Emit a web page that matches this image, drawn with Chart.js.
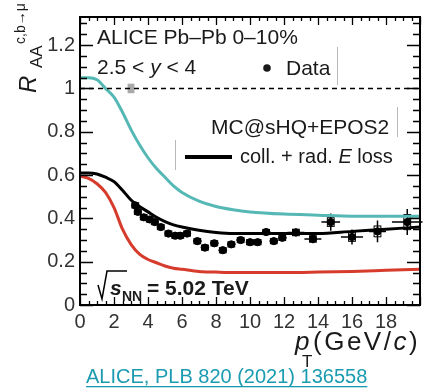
<!DOCTYPE html>
<html><head><meta charset="utf-8">
<script src="https://cdn.jsdelivr.net/npm/chart.js@4"></script>
<style>html,body{margin:0;padding:0;background:#fff}</style>
</head><body>
<canvas id="c" width="425" height="392"></canvas>
<script>
// axis ticks
const xTicks = [0,2,4,6,8,10,12,14,16,18];
const yTicks = [0,0.2,0.4,0.6,0.8,1,1.2];
const xMinorStep = 0.5, yMinorStep = 0.05;

// MC@sHQ+EPOS2 curves (pT grid shared)
const curvePt   = [0,0.5,1,1.5,2,2.5,3,3.5,4,4.5,5,5.5,6,7,8,9,10,12,14,16,18,20];
const cyanCurve = [1.05,1.05,1.04,1.0,0.96,0.89,0.81,0.74,0.68,0.63,0.59,0.55,0.52,0.48,0.455,0.44,0.43,0.42,0.415,0.41,0.41,0.41];
const blackCurve= [0.61,0.61,0.605,0.59,0.57,0.53,0.485,0.455,0.43,0.405,0.385,0.37,0.36,0.345,0.335,0.33,0.33,0.33,0.33,0.34,0.35,0.36];
const redCurve  = [0.595,0.585,0.56,0.52,0.45,0.35,0.28,0.235,0.21,0.195,0.18,0.17,0.165,0.155,0.152,0.15,0.15,0.15,0.152,0.155,0.16,0.165];

// ALICE data
const dataPt  = [3.25,3.4,3.75,4.1,4.4,4.75,5.2,5.6,5.9,6.3,6.9,7.35,7.9,8.4,8.9,9.45,10.0,10.45,10.95,11.4,11.9,12.7,13.7,14.75,16.0,17.5,19.25];
const dataRaa = [0.46,0.43,0.405,0.395,0.383,0.36,0.33,0.32,0.32,0.33,0.295,0.265,0.285,0.253,0.28,0.30,0.29,0.29,0.337,0.295,0.31,0.335,0.305,0.383,0.314,0.34,0.383];
const statErr = [0.01,0.01,0.01,0.01,0.01,0.01,0.01,0.01,0.01,0.01,0.01,0.01,0.01,0.01,0.01,0.012,0.012,0.012,0.015,0.015,0.015,0.018,0.02,0.04,0.035,0.05,0.06];
const ptErr   = [0.1,0.1,0.1,0.1,0.1,0.1,0.2,0.2,0.2,0.2,0.25,0.25,0.25,0.25,0.25,0.25,0.25,0.25,0.25,0.25,0.25,0.5,0.5,0.55,0.65,0.5,0.9];
const sysErr  = [0.012,0.012,0.012,0.012,0.012,0.012,0.012,0.012,0.012,0.012,0.012,0.012,0.012,0.012,0.012,0.012,0.012,0.012,0.012,0.012,0.012,0.015,0.015,0.02,0.02,0.025,0.035];

// normalisation uncertainty box at unity
const normPt = 3.0, normDpt = 0.2, normVal = 1.0, normErr = 0.022;

const cyanCol = '#55b8b5', redCol = '#d63b2c', teal = '#1a9bb0';
const FONT = "'Liberation Sans', Arial, sans-serif";

const pts = (xs, ys) => xs.map((x, i) => ({x, y: ys[i]}));

const errPlugin = {
  id: 'errs',
  beforeDatasetsDraw(chart) {
    const {ctx, scales:{x, y}} = chart;
    ctx.save();
    // normalisation box
    ctx.fillStyle = '#a9a9a9';
    ctx.fillRect(x.getPixelForValue(normPt - normDpt), y.getPixelForValue(normVal + normErr),
      x.getPixelForValue(normPt + normDpt) - x.getPixelForValue(normPt - normDpt),
      y.getPixelForValue(normVal - normErr) - y.getPixelForValue(normVal + normErr));
    ctx.strokeStyle = '#000'; ctx.lineWidth = 1.5;
    dataPt.forEach((p, i) => {
      const px = x.getPixelForValue(p), py = y.getPixelForValue(dataRaa[i]);
      ctx.beginPath();
      ctx.moveTo(x.getPixelForValue(p - ptErr[i]), py); ctx.lineTo(x.getPixelForValue(p + ptErr[i]), py);
      ctx.moveTo(px, y.getPixelForValue(dataRaa[i] - statErr[i])); ctx.lineTo(px, y.getPixelForValue(dataRaa[i] + statErr[i]));
      ctx.stroke();
      const bx0 = x.getPixelForValue(p - 0.2), bx1 = x.getPixelForValue(p + 0.2);
      const by0 = y.getPixelForValue(dataRaa[i] + sysErr[i]), by1 = y.getPixelForValue(dataRaa[i] - sysErr[i]);
      ctx.lineWidth = 1; ctx.strokeRect(bx0, by0, bx1 - bx0, by1 - by0); ctx.lineWidth = 1.5;
    });
    ctx.restore();
  },
  afterDraw(chart) {
    const {ctx, chartArea:a, scales:{x, y}} = chart;
    ctx.save();
    ctx.strokeStyle = '#000'; ctx.lineWidth = 2;
    ctx.strokeRect(a.left, a.top, a.right - a.left, a.bottom - a.top);
    ctx.lineWidth = 1.3;
    ctx.beginPath();
    for (let v = 0; v <= x.max + 1e-9; v += xMinorStep) {
      const px = Math.round(x.getPixelForValue(v)) + 0.5;
      const L = Math.abs(v % 2) < 1e-6 ? 8 : 4;
      ctx.moveTo(px, a.bottom); ctx.lineTo(px, a.bottom - L);
      ctx.moveTo(px, a.top); ctx.lineTo(px, a.top + L);
    }
    for (let v = 0; v <= y.max + 1e-9; v += yMinorStep) {
      const py = Math.round(y.getPixelForValue(v)) + 0.5;
      const major = Math.abs(Math.round(v * 100) % 20) === 0;
      const L = major ? 13 : 7;
      ctx.moveTo(a.left, py); ctx.lineTo(a.left + L, py);
      ctx.moveTo(a.right, py); ctx.lineTo(a.right - L, py);
    }
    ctx.stroke();

    // faint legend separators
    ctx.strokeStyle = '#b8b8b8'; ctx.lineWidth = 1;
    ctx.beginPath();
    ctx.moveTo(337.5, 47); ctx.lineTo(337.5, 85);
    ctx.moveTo(397.5, 107); ctx.lineTo(397.5, 137);
    ctx.moveTo(175.5, 140); ctx.lineTo(175.5, 170);
    ctx.stroke();

    ctx.fillStyle = '#1a1a1a'; ctx.textBaseline = 'alphabetic'; ctx.textAlign = 'left';
    ctx.font = `21px ${FONT}`;
    ctx.fillText('ALICE Pb\u2013Pb 0\u201310%', 97, 44);
    ctx.fillText('2.5 < ', 97, 74);
    let w = ctx.measureText('2.5 < ').width;
    ctx.font = `italic 21px ${FONT}`; ctx.fillText('y', 97 + w, 74);
    w += ctx.measureText('y').width;
    ctx.font = `21px ${FONT}`; ctx.fillText(' < 4', 97 + w, 74);
    ctx.beginPath(); ctx.arc(267, 68, 3.8, 0, Math.PI * 2); ctx.fill();
    ctx.fillText('Data', 286, 75);
    ctx.fillText('MC@sHQ+EPOS2', 211, 134);
    ctx.font = `20px ${FONT}`;
    ctx.fillText('coll. + rad. ', 240, 163);
    w = ctx.measureText('coll. + rad. ').width;
    ctx.font = `italic 20px ${FONT}`; ctx.fillText('E', 240 + w, 163);
    w += ctx.measureText('E').width;
    ctx.font = `20px ${FONT}`; ctx.fillText(' loss', 240 + w, 163);
    ctx.strokeStyle = '#000'; ctx.lineWidth = 4;
    ctx.beginPath(); ctx.moveTo(185, 157); ctx.lineTo(232, 157); ctx.stroke();

    // sqrt(sNN) label
    ctx.lineWidth = 1.5;
    ctx.beginPath(); ctx.moveTo(98, 285); ctx.lineTo(102, 299); ctx.lineTo(107, 271); ctx.lineTo(127, 271); ctx.stroke();
    ctx.font = `bold italic 21px ${FONT}`; ctx.fillText('s', 110, 295);
    ctx.font = `bold 14px ${FONT}`; ctx.fillText('NN', 122, 301);
    ctx.font = `bold 21px ${FONT}`; ctx.fillText('= 5.02 TeV', 147, 295);

    // y title
    ctx.save();
    ctx.translate(36, 93); ctx.rotate(-Math.PI / 2);
    ctx.font = `italic 24px ${FONT}`; ctx.fillText('R', 0, 0);
    ctx.font = `17px ${FONT}`; ctx.fillText('AA', 25, 6);
    ctx.font = `14px ${FONT}`; ctx.fillText('c,b\u2192\u03bc', 49, -11);
    ctx.restore();

    // x title
    ctx.font = `italic 26px ${FONT}`; ctx.fillText('p', 295, 350);
    ctx.font = `17px ${FONT}`; ctx.fillText('T', 302, 367);
    ctx.letterSpacing = '2.5px';
    ctx.font = `26px ${FONT}`; ctx.fillText('(GeV/', 313, 350);
    w = ctx.measureText('(GeV/').width;
    ctx.font = `italic 26px ${FONT}`; ctx.fillText('c', 313 + w, 350);
    w += ctx.measureText('c').width;
    ctx.font = `26px ${FONT}`; ctx.fillText(')', 313 + w, 350);
    ctx.letterSpacing = '0px';

    // reference
    ctx.fillStyle = teal; ctx.font = `20px ${FONT}`;
    const ref = 'ALICE, PLB 820 (2021) 136558';
    ctx.fillText(ref, 86, 383);
    ctx.fillRect(86, 386, ctx.measureText(ref).width, 1.3);
    ctx.restore();
  }
};

const lineDs = (data, color, width) => ({
  data, borderColor: color, borderWidth: width, pointRadius: 0, showLine: true,
  cubicInterpolationMode: 'monotone', fill: false
});

new Chart(document.getElementById('c'), {
  type: 'scatter',
  data: { datasets: [
    { data: pts([0, 20], [1, 1]), borderColor: '#000', borderWidth: 1.5, borderDash: [5, 4], pointRadius: 0, showLine: true },
    lineDs(pts(curvePt, cyanCurve), cyanCol, 3),
    lineDs(pts(curvePt, redCurve), redCol, 3),
    lineDs(pts(curvePt, blackCurve), '#000', 3),
    { data: pts(dataPt, dataRaa), backgroundColor: '#000', borderColor: '#000', pointRadius: 3.6, pointStyle: 'circle', showLine: false }
  ]},
  options: {
    responsive: false, animation: false,
    layout: { padding: { top: 15, right: 4 } },
    plugins: { legend: { display: false }, tooltip: { enabled: false } },
    scales: {
      x: { type: 'linear', min: 0, max: 20,
        grid: { display: false, drawTicks: false }, border: { display: false },
        ticks: { font: { family: FONT, size: 20 }, color: '#333', padding: 5, maxRotation: 0, autoSkip: false },
        afterBuildTicks: s => { s.ticks = xTicks.map(v => ({ value: v })); },
        afterFit: s => { s.height = 87; } },
      y: { type: 'linear', min: 0, max: 1.33,
        grid: { display: false, drawTicks: false }, border: { display: false },
        ticks: { font: { family: FONT, size: 20 }, color: '#333', padding: 5, autoSkip: false,
          callback: v => String(+v.toFixed(2)) },
        afterBuildTicks: s => { s.ticks = yTicks.map(v => ({ value: v })); },
        afterFit: s => { s.width = 80; } }
    }
  },
  plugins: [errPlugin]
});
</script>
</body></html>
